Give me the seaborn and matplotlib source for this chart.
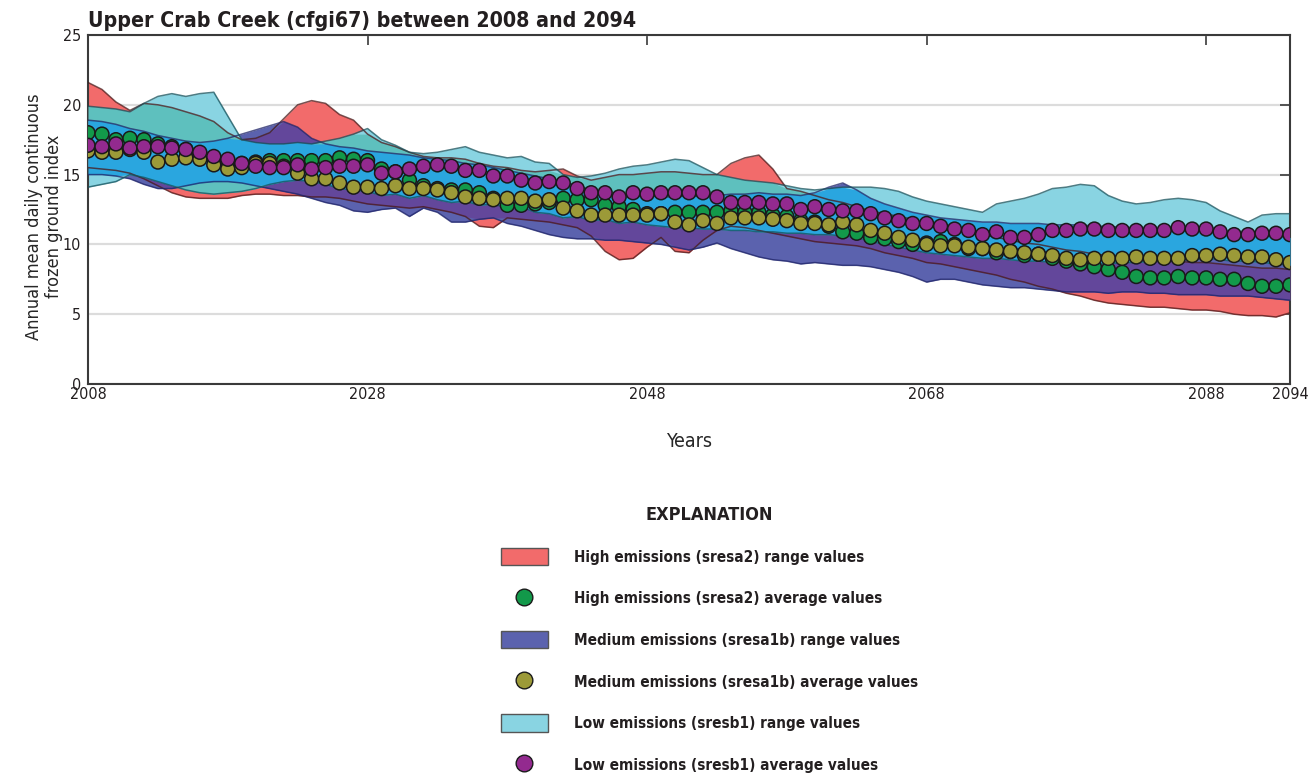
import numpy as np
import pandas as pd
import matplotlib
matplotlib.use("Agg")
import matplotlib.pyplot as plt
from matplotlib import font_manager as fm
from matplotlib.patches import Patch
from matplotlib.lines import Line2D
import seaborn as sns

# ---------------------------------------------------------------- data
years = list(range(2008, 2095))

# scenario averages (annual mean daily continuous frozen ground index)
high_avg = [
    18.0, 17.9, 17.5, 17.6, 17.5, 17.2, 17.0, 16.8, 16.5, 16.2,
    15.9, 15.8, 15.9, 16.0, 16.0, 16.0, 16.0, 16.0, 16.2, 16.1,
    16.0, 15.4, 15.2, 14.6, 14.2, 14.0, 13.9, 13.9, 13.7, 13.3,
    12.8, 12.8, 12.9, 13.0, 13.3, 13.2, 13.2, 12.8, 12.7, 12.5,
    12.2, 12.2, 12.3, 12.3, 12.3, 12.3, 12.4, 12.3, 12.3, 12.1,
    12.0, 11.7, 11.6, 11.3, 10.9, 10.8, 10.5, 10.4, 10.2, 10.0,
    10.1, 10.2, 10.0, 9.7, 9.7, 9.4, 9.5, 9.2, 9.3, 9.0,
    8.8, 8.6, 8.4, 8.2, 8.0, 7.7, 7.6, 7.6, 7.7, 7.6,
    7.6, 7.5, 7.5, 7.2, 7.0, 7.0, 7.1,
]
medium_avg = [
    16.7, 16.6, 16.6, 16.8, 16.6, 15.9, 16.1, 16.2, 16.1, 15.7,
    15.4, 15.5, 15.8, 15.8, 15.6, 15.1, 14.7, 14.7, 14.4, 14.1,
    14.1, 14.0, 14.2, 14.0, 14.0, 13.9, 13.7, 13.4, 13.3, 13.2,
    13.3, 13.3, 13.1, 13.2, 12.6, 12.4, 12.1, 12.1, 12.1, 12.1,
    12.1, 12.2, 11.6, 11.4, 11.7, 11.5, 11.9, 11.9, 11.9, 11.8,
    11.7, 11.5, 11.5, 11.4, 11.6, 11.4, 11.0, 10.8, 10.5, 10.3,
    10.0, 9.9, 9.9, 9.8, 9.7, 9.6, 9.5, 9.4, 9.3, 9.2,
    9.0, 8.9, 9.0, 9.0, 9.0, 9.1, 9.0, 9.0, 9.0, 9.2,
    9.2, 9.3, 9.2, 9.1, 9.1, 8.9, 8.7,
]
low_avg = [
    17.1, 17.0, 17.2, 16.9, 17.0, 17.0, 16.9, 16.8, 16.6, 16.3,
    16.1, 15.8, 15.6, 15.5, 15.5, 15.7, 15.4, 15.5, 15.6, 15.6,
    15.7, 15.1, 15.2, 15.4, 15.6, 15.7, 15.6, 15.3, 15.3, 14.9,
    14.9, 14.6, 14.4, 14.5, 14.4, 14.0, 13.7, 13.7, 13.4, 13.7,
    13.6, 13.7, 13.7, 13.7, 13.7, 13.4, 13.0, 13.0, 13.0, 12.9,
    12.9, 12.5, 12.7, 12.5, 12.4, 12.4, 12.2, 11.9, 11.7, 11.5,
    11.5, 11.3, 11.1, 11.0, 10.7, 10.9, 10.5, 10.5, 10.7, 11.0,
    11.0, 11.1, 11.1, 11.0, 11.0, 11.0, 11.0, 11.0, 11.2, 11.1,
    11.1, 10.9, 10.7, 10.7, 10.8, 10.8, 10.7,
]

# scenario range limits
high_upper = [
    21.6, 21.1, 20.2, 19.6, 20.1, 20.0, 19.8, 19.5, 19.2, 18.8,
    18.0, 17.5, 17.6, 18.0, 19.0, 20.0, 20.3, 20.1, 19.3, 18.9,
    17.9, 17.3, 17.0, 16.6, 16.3, 16.2, 16.2, 16.1, 15.8, 15.6,
    15.5, 15.3, 15.2, 15.3, 15.4, 14.9, 14.6, 14.8, 15.0, 15.0,
    15.1, 15.2, 15.2, 15.1, 15.0, 15.0, 15.8, 16.2, 16.4, 15.4,
    14.0, 13.8, 13.5, 13.2, 13.0, 12.7, 12.4, 12.2, 12.0, 11.8,
    11.5, 11.3, 11.1, 10.9, 10.7, 10.5, 10.3, 10.1, 10.0, 9.8,
    9.6, 9.5, 9.3, 9.2, 9.1, 9.0, 8.9, 8.8, 8.8, 8.7,
    8.7, 8.6, 8.5, 8.4, 8.3, 8.3, 8.2,
]
high_lower = [
    15.5, 15.4, 15.3, 15.1, 14.7, 14.2, 13.7, 13.4, 13.3, 13.3,
    13.3, 13.5, 13.6, 13.6, 13.5, 13.5, 13.4, 13.4, 13.3, 13.1,
    12.9, 12.8, 12.7, 12.6, 12.7, 12.5, 12.3, 12.0, 11.3, 11.2,
    11.9, 11.8, 11.7, 11.6, 11.4, 11.2, 10.6, 9.5, 8.9, 9.0,
    9.8, 10.5, 9.5, 9.4, 10.3, 11.0, 11.3, 11.2, 11.0, 10.8,
    10.6, 10.4, 10.2, 10.1, 10.0, 9.9, 9.7, 9.4, 9.2, 9.0,
    8.7, 8.6, 8.4, 8.2, 8.0, 7.8, 7.5, 7.3, 7.0, 6.8,
    6.5, 6.3, 6.0, 5.8, 5.7, 5.6, 5.5, 5.5, 5.4, 5.3,
    5.3, 5.2, 5.0, 4.9, 4.9, 4.8, 5.1,
]
medium_upper = [
    18.9, 18.8, 18.6, 18.3, 18.1, 17.8, 17.6, 17.4, 17.3, 17.4,
    17.6, 17.9, 18.2, 18.5, 18.8, 18.4, 17.6, 17.2, 17.0, 16.9,
    16.7, 16.6, 16.5, 16.4, 16.2, 16.1, 16.0, 15.8, 15.7, 15.5,
    15.3, 15.1, 14.9, 14.7, 14.5, 14.2, 13.9, 13.6, 13.4, 13.4,
    13.5, 13.4, 13.4, 13.5, 13.4, 13.5, 13.6, 13.6, 13.7, 13.6,
    13.6, 13.5, 13.7, 14.1, 14.4, 13.9, 13.3, 12.9, 12.6, 12.3,
    12.1, 11.9, 11.8, 11.7, 11.6, 11.6, 11.5, 11.5, 11.5, 11.4,
    11.4, 11.4, 11.3, 11.3, 11.2, 11.2, 11.1, 11.1, 11.0, 11.0,
    11.0, 10.9, 10.8, 10.7, 10.6, 10.6, 10.5,
]
medium_lower = [
    15.0, 15.0, 14.9, 14.7, 14.3, 14.0, 14.0, 14.2, 14.4, 14.5,
    14.5, 14.4, 14.2, 14.0, 13.8, 13.6, 13.3, 13.0, 12.8, 12.4,
    12.3, 12.5, 12.6, 12.0, 12.6, 12.3, 11.6, 11.6, 11.8, 11.9,
    11.5, 11.3, 11.0, 10.7, 10.5, 10.4, 10.4, 10.3, 10.3, 10.2,
    10.1, 10.0, 9.8, 9.6, 9.8, 10.1, 9.7, 9.4, 9.1, 8.9,
    8.8, 8.6, 8.7, 8.6, 8.5, 8.5, 8.4, 8.2, 8.0, 7.7,
    7.3, 7.5, 7.5, 7.3, 7.1, 7.0, 6.9, 6.9, 6.8, 6.7,
    6.6, 6.6, 6.6, 6.5, 6.6, 6.6, 6.5, 6.5, 6.4, 6.4,
    6.4, 6.3, 6.3, 6.3, 6.2, 6.1, 6.0,
]
low_upper = [
    19.9, 19.8, 19.7, 19.5, 20.1, 20.6, 20.8, 20.6, 20.8, 20.9,
    19.2, 17.5, 17.3, 17.2, 17.2, 17.3, 17.2, 17.4, 17.6, 17.9,
    18.3, 17.5, 17.1, 16.6, 16.5, 16.6, 16.8, 17.0, 16.6, 16.4,
    16.2, 16.3, 15.9, 15.8, 15.0, 14.8, 14.9, 15.1, 15.4, 15.6,
    15.7, 15.9, 16.1, 16.0, 15.5, 15.0, 14.8, 14.6, 14.5, 14.4,
    14.2, 14.0, 13.9, 14.0, 14.1, 14.1, 14.1, 14.0, 13.8, 13.4,
    13.1, 12.9, 12.7, 12.5, 12.3, 12.9, 13.1, 13.3, 13.6, 14.0,
    14.1, 14.3, 14.2, 13.5, 13.1, 12.9, 13.0, 13.2, 13.3, 13.2,
    13.0, 12.4, 12.0, 11.6, 12.1, 12.2, 12.2,
]
low_lower = [
    14.1, 14.3, 14.5, 15.0, 14.8, 14.5, 14.2, 13.9, 13.7, 13.6,
    13.7, 13.8, 14.0, 14.3, 14.5, 14.6, 14.5, 14.3, 14.0, 13.9,
    13.8, 13.5, 13.6, 13.3, 13.5, 13.2, 13.0, 13.1, 12.8, 12.9,
    12.6, 12.7, 12.3, 12.2, 11.9, 12.0, 11.7, 11.8, 11.5, 11.6,
    11.4, 11.3, 11.2, 11.2, 11.1, 11.1, 11.0, 11.0, 10.9, 10.9,
    10.8, 10.8, 10.7, 10.7, 10.6, 10.5, 10.2, 10.0, 9.8, 9.6,
    9.4, 9.3, 9.2, 9.1, 9.0, 9.0, 8.9, 8.8, 8.8, 8.7,
    8.7, 8.6, 8.6, 8.6, 8.7, 8.7, 8.8, 8.8, 8.9, 8.9,
    9.0, 8.9, 8.8, 8.8, 8.7, 8.6, 8.5,
]

x_ticks = [2008, 2028, 2048, 2068, 2088, 2094]
y_ticks = [0, 5, 10, 15, 20, 25]

scenarios = ["High emissions (sresa2)", "Medium emissions (sresa1b)", "Low emissions (sresb1)"]

# ---------------------------------------------------------------- style
RED, MED, LOW = "#F26B6B", "#5B62AE", "#89D4E2"
RED_MED, RED_LOW, MED_LOW = "#63479B", "#5EC0BE", "#2AA6DF"
DOT = {scenarios[0]: "#12994A", scenarios[1]: "#9C9A38", scenarios[2]: "#932A8F"}

sns.set_theme(style="white")

# prefer a narrow sans face when one is installed
family, stretch = "Liberation Sans", "normal"
for f in fm.fontManager.ttflist:
    st = str(f.stretch)
    if "condensed" in st or "Narrow" in f.name or "Condensed" in f.name:
        family, stretch = f.name, st
        break
plt.rcParams["font.family"] = [family, "DejaVu Sans"]
plt.rcParams["font.stretch"] = stretch
plt.rcParams["text.color"] = "#231F20"

fig = plt.figure(figsize=(13.15, 7.73), dpi=100)
W, H = 1315, 773
ax = fig.add_axes([88 / W, 1 - 384 / H, (1290 - 88) / W, (384 - 35) / H])

x = np.array(years, dtype=float)
hu, hl = np.array(high_upper), np.array(high_lower)
mu, ml = np.array(medium_upper), np.array(medium_lower)
lu, ll = np.array(low_upper), np.array(low_lower)

# range bands
ax.fill_between(x, hl, hu, color=RED, lw=0, zorder=2)
ax.fill_between(x, ml, mu, color=MED, lw=0, zorder=2)
ax.fill_between(x, ll, lu, color=LOW, lw=0, zorder=2)


def overlap(lo_a, hi_a, lo_b, hi_b, color):
    lo = np.maximum(lo_a, lo_b)
    hi = np.minimum(hi_a, hi_b)
    ax.fill_between(x, lo, hi, where=hi > lo, interpolate=True,
                    color=color, lw=0, zorder=3)


overlap(hl, hu, ml, mu, RED_MED)
overlap(hl, hu, ll, lu, RED_LOW)
overlap(ml, mu, ll, lu, MED_LOW)

# band outlines
for lo, hi, ec in [(hl, hu, "#4a1818"), (ml, mu, "#1f2468"), (ll, lu, "#14505a")]:
    ax.plot(x, hi, color=ec, lw=1.1, alpha=0.75, zorder=4)
    ax.plot(x, lo, color=ec, lw=1.1, alpha=0.75, zorder=4)

# scenario averages
avg = pd.DataFrame({
    "year": years * 3,
    "value": high_avg + medium_avg + low_avg,
    "scenario": [scenarios[0]] * len(years) + [scenarios[1]] * len(years)
                + [scenarios[2]] * len(years),
})
sns.scatterplot(data=avg, x="year", y="value", hue="scenario", palette=DOT,
                s=100, edgecolor="#1a1a1a", linewidth=1.1, legend=False,
                ax=ax, zorder=5)

# axes
ax.set_xlim(2008, 2094)
ax.set_ylim(0, 25)
ax.set_xticks(x_ticks)
ax.set_yticks(y_ticks)
ax.set_axisbelow(True)
ax.yaxis.grid(True, color="#dcdcdc", lw=1.6)
ax.xaxis.grid(False)
for sp in ax.spines.values():
    sp.set_color("#3a3a3a")
    sp.set_linewidth(1.5)
ax.tick_params(direction="in", length=7, width=1.2, color="#3a3a3a",
               top=True, right=True, labelsize=11.5, labelcolor="#231F20")
ax.tick_params(axis="x", pad=2.5)
ax.tick_params(axis="y", pad=5)
ax.set_xlabel("Years", fontsize=14, labelpad=21)
ax.set_ylabel("Annual mean daily continuous\nfrozen ground index", fontsize=13,
              linespacing=1.1)
ax.yaxis.set_label_coords(-0.021, 0.48)

fig.text(88 / W, 1 - 27 / H, "Upper Crab Creek (cfgi67) between 2008 and 2094",
         fontsize=15.3, fontweight="bold", ha="left", va="baseline")

# explanation
handles = [
    Patch(facecolor=RED, edgecolor="#555555", lw=1),
    Line2D([], [], ls="", marker="o", ms=12, mfc=DOT[scenarios[0]], mec="#1a1a1a", mew=1),
    Patch(facecolor=MED, edgecolor="#555555", lw=1),
    Line2D([], [], ls="", marker="o", ms=12, mfc=DOT[scenarios[1]], mec="#1a1a1a", mew=1),
    Patch(facecolor=LOW, edgecolor="#555555", lw=1),
    Line2D([], [], ls="", marker="o", ms=12, mfc=DOT[scenarios[2]], mec="#1a1a1a", mew=1),
]
labels = []
for s in scenarios:
    labels += [f"{s} range values", f"{s} average values"]
leg = fig.legend(handles, labels, loc="upper left",
                 bbox_to_anchor=(493 / W, 1 - 498 / H), frameon=False,
                 title="EXPLANATION", borderpad=0, handlelength=3.07,
                 handleheight=1.35, handletextpad=1.75, labelspacing=1.6,
                 prop={"size": 11, "weight": "bold"},
                 title_fontproperties={"size": 13, "weight": "bold"})

fig.savefig("out.png", dpi=100)
